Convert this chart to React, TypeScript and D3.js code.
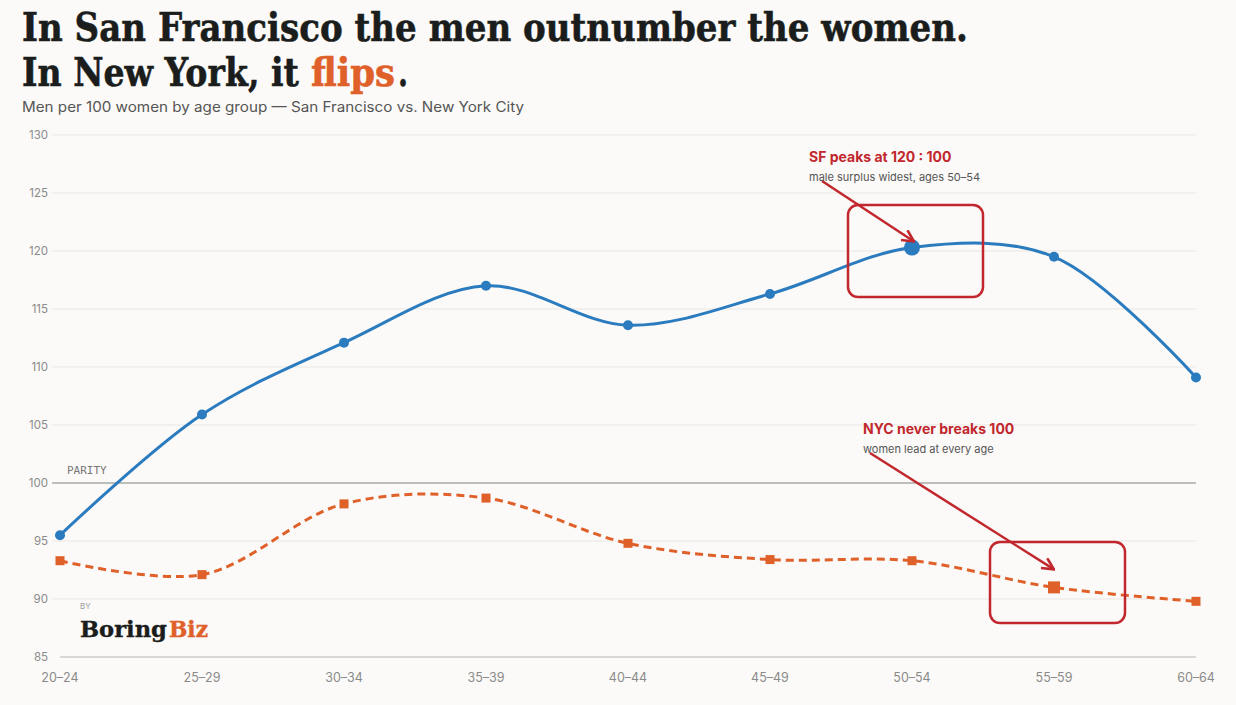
import React from "react";
import * as d3 from "d3";

const ageGroups = ["20–24", "25–29", "30–34", "35–39", "40–44", "45–49", "50–54", "55–59", "60–64"];
const sfValues = [95.5, 105.9, 112.1, 117.0, 113.6, 116.3, 120.3, 119.5, 109.1];
const nycValues = [93.3, 92.1, 98.2, 98.7, 94.8, 93.4, 93.3, 91.0, 89.8];
const yTicks = [85, 90, 95, 100, 105, 110, 115, 120, 125, 130];

const W = 1236;
const H = 705;
const BLUE = "#2b7bbf";
const ORANGE = "#e0602a";
const RED = "#c1272d";
const INK = "#1a1d1c";
const TITLE_FONT = "'DejaVu Serif', serif";

let ctx: CanvasRenderingContext2D | null = null;
function measure(text: string, size: number): number {
  if (!ctx) ctx = document.createElement("canvas").getContext("2d");
  if (!ctx) return text.length * size * 0.6;
  ctx.font = `bold ${size}px 'DejaVu Serif', serif`;
  return ctx.measureText(text).width;
}

function FitText(props: { text: string; x: number; y: number; width: number; size: number; color: string; sw?: number }) {
  const { text, x, y, width, size, color, sw = 0.6 } = props;
  const sx = width / measure(text, size);
  return (
    <text
      transform={`translate(${x},${y}) scale(${sx},1)`}
      fontFamily={TITLE_FONT}
      fontWeight="bold"
      fontSize={size}
      fill={color}
      stroke={color}
      strokeWidth={sw}
    >
      {text}
    </text>
  );
}

export default function App() {
  const x = d3.scalePoint<string>().domain(ageGroups).range([60, 1196]);
  const y = d3.scaleLinear().domain([85, 130]).range([657, 135]);

  const line = d3
    .line<number>()
    .x((_, i) => x(ageGroups[i]) as number)
    .y((d) => y(d))
    .curve(d3.curveCatmullRom.alpha(0.5));

  const sfPeak = 6;
  const nycHi = 7;
  const px = (i: number) => x(ageGroups[i]) as number;

  return (
    <svg width={W} height={H} style={{ position: "absolute", left: 0, top: 0, background: "#fbfaf8" }}>
      <defs>
        <marker id="arr" viewBox="0 0 12 12" refX="11" refY="6" markerWidth="14" markerHeight="14" orient="auto" markerUnits="userSpaceOnUse">
          <path d="M1,1 L11,6 L1,11" fill="none" stroke={RED} strokeWidth={2.2} />
        </marker>
      </defs>
      <rect x={0} y={0} width={W} height={H} fill="#fbfaf8" />

      {/* Title */}
      <FitText text="In San Francisco the men outnumber the women." x={22} y={41} width={946} size={40} color={INK} />
      <FitText text="In New York, it" x={22} y={86} width={277} size={40} color={INK} />
      <FitText text="flips" x={311} y={86} width={84} size={40} color={ORANGE} />
      <FitText text="." x={398} y={86} width={10} size={40} color={INK} />
      <text x={22} y={112} fontFamily="Inter, 'Noto Sans', sans-serif" fontSize={14} fill="#555" textLength={502} lengthAdjust="spacingAndGlyphs">
        Men per 100 women by age group — San Francisco vs. New York City
      </text>

      {/* Grid */}
      {yTicks.map((t) => (
        <g key={t}>
          {t !== 85 && t !== 100 && (
            <line x1={52} x2={1196} y1={y(t)} y2={y(t)} stroke="#e9e7e4" strokeWidth={1} />
          )}
          <text x={48} y={y(t) + 4} textAnchor="end" fontFamily="Inter, 'Noto Sans', sans-serif" fontSize={11.5} fill="#8a8a8a">
            {t}
          </text>
        </g>
      ))}
      <line x1={60} x2={1196} y1={y(85)} y2={y(85)} stroke="#cfcdca" strokeWidth={1.5} />
      <line x1={52} x2={1196} y1={y(100)} y2={y(100)} stroke="#808080" strokeWidth={1.2} />
      <text x={67} y={y(100) - 9} fontFamily="'DejaVu Sans Mono', monospace" fontSize={11} fill="#777">
        PARITY
      </text>

      {/* X labels */}
      {ageGroups.map((g) => (
        <text key={g} x={x(g)} y={682} textAnchor="middle" fontFamily="Inter, 'Noto Sans', sans-serif" fontSize={12.5} fill="#8a8a8a">
          {g}
        </text>
      ))}

      {/* Branding */}
      <text x={80} y={609} fontFamily="Inter, sans-serif" fontSize={8} fill="#999">BY</text>
      <FitText text="Boring" x={80} y={637} width={87} size={22} color={INK} sw={0.4} />
      <FitText text="Biz" x={169} y={637} width={39} size={22} color={ORANGE} sw={0.4} />

      {/* Lines */}
      <path d={line(nycValues) || ""} fill="none" stroke={ORANGE} strokeWidth={3} strokeDasharray="8 5" />
      <path d={line(sfValues) || ""} fill="none" stroke={BLUE} strokeWidth={3} />

      {sfValues.map((v, i) => (
        <circle key={i} cx={px(i)} cy={y(v)} r={i === sfPeak ? 8 : 5} fill={BLUE} />
      ))}
      {nycValues.map((v, i) => {
        const s = i === nycHi ? 12 : 9;
        return <rect key={i} x={px(i) - s / 2} y={y(v) - s / 2} width={s} height={s} fill={ORANGE} />;
      })}

      {/* Annotation SF */}
      <rect x={848} y={205} width={135} height={92} rx={10} fill="none" stroke={RED} strokeWidth={2.5} />
      <line x1={822} y1={181} x2={px(sfPeak) + 2} y2={y(sfValues[sfPeak]) - 6} stroke={RED} strokeWidth={2.5} markerEnd="url(#arr)" />
      <text x={809} y={162} fontFamily="Inter, 'Noto Sans', sans-serif" fontWeight="bold" fontSize={14} fill={RED}>
        SF peaks at 120 : 100
      </text>
      <text x={809} y={181} fontFamily="Inter, 'Noto Sans', sans-serif" fontSize={11} fill="#555">
        male surplus widest, ages 50–54
      </text>

      {/* Annotation NYC */}
      <rect x={990} y={542} width={135} height={81} rx={10} fill="none" stroke={RED} strokeWidth={2.5} />
      <line x1={870} y1={453} x2={px(nycHi)} y2={y(nycValues[nycHi]) - 18} stroke={RED} strokeWidth={2.5} markerEnd="url(#arr)" />
      <text x={863} y={434} fontFamily="Inter, 'Noto Sans', sans-serif" fontWeight="bold" fontSize={14} fill={RED}>
        NYC never breaks 100
      </text>
      <text x={863} y={453} fontFamily="Inter, 'Noto Sans', sans-serif" fontSize={11} fill="#555">
        women lead at every age
      </text>
    </svg>
  );
}
